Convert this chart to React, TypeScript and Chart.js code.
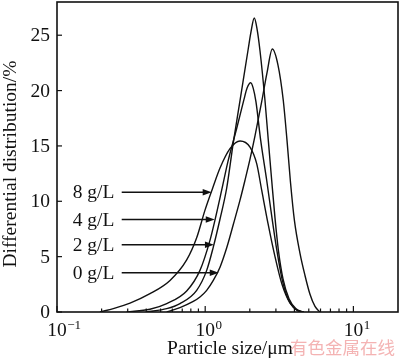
import React, { useEffect, useRef } from 'react';
import { Chart, registerables } from 'chart.js';

Chart.register(...registerables);

// ---- data (particle size in µm, differential distribution in %) ----
const seriesLabels = ['0 g/L', '2 g/L', '4 g/L', '8 g/L'];

const size0 = [0.550, 0.676, 0.831, 0.922, 1.0235, 1.134, 1.259, 1.397, 1.5475, 1.7175, 1.856, 2.006, 2.168, 2.406, 2.612, 2.837, 3.099, 3.365, 3.565, 3.764, 4.006, 4.362, 4.714, 5.095, 5.507, 5.953];
const dist0 = [0, 0.4, 0.95, 1.35, 1.95, 2.85, 4.05, 5.8, 7.9, 10.1, 11.9, 13.8, 15.9, 19.0, 21.6, 23.75, 22.3, 19.1, 15.5, 11.7, 8.2, 5.3, 3.3, 1.6, 0.5, 0];

const size2 = [0.403, 0.550, 0.676, 0.876, 1.0235, 1.134, 1.259, 1.397, 1.5475, 1.7175, 1.9535, 2.037, 2.144, 2.236, 2.343, 2.532, 2.666, 2.810, 2.958, 3.123, 3.350, 3.677, 4.100, 4.571];
const dist2 = [0, 0.3, 0.76, 1.96, 3.76, 5.86, 8.4, 11.2, 15.3, 19.1, 23.8, 25.3, 26.55, 25.6, 23.6, 19.1, 15.5, 11.9, 8.5, 5.5, 3.0, 1.2, 0.3, 0];

const size4 = [0.295, 0.424, 0.550, 0.750, 0.922, 1.077, 1.164, 1.292, 1.425, 1.632, 1.827, 1.915, 2.028, 2.11, 2.20, 2.369, 2.600, 2.823, 3.051, 3.298, 3.620, 4.035, 4.499];
const dist4 = [0, 0.25, 0.76, 1.9, 3.76, 6.47, 8.3, 11.0, 13.6, 16.6, 19.2, 20.2, 20.7, 20.2, 19.0, 15.5, 11.9, 8.5, 5.5, 3.0, 1.2, 0.3, 0];

const size8 = [0.195, 0.246, 0.311, 0.424, 0.579, 0.750, 0.876, 0.997, 1.124, 1.259, 1.470, 1.718, 2.006, 2.226, 2.406, 2.653, 2.958, 3.298, 3.734, 4.228, 4.642];
const dist8 = [0, 0.35, 0.8, 1.65, 2.85, 4.7, 6.7, 9.2, 11.2, 13.0, 14.75, 15.45, 14.9, 13.4, 11.0, 8.0, 5.0, 2.5, 0.8, 0.1, 0];

const seriesSizes = [size0, size2, size4, size8];
const seriesDists = [dist0, dist2, dist4, dist8];

// axes
const xMin = 0.1;
const xMax = 20;
const yMin = 0;
const yMax = 28;
const yTicks = [0, 5, 10, 15, 20, 25];
const xMajorTicks = [0.1, 1, 10];
const xMajorExponents = ['\u22121', '0', '1'];
const xMinorMultipliers = [2, 3, 4, 5, 6, 7, 8, 9];

// annotations (arrows pointing at curves), in data units
const arrowLabels = ['8 g/L', '4 g/L', '2 g/L', '0 g/L'];
const arrowY = [10.82, 8.36, 6.08, 3.55];
const arrowTipX = [1.106, 1.16, 1.145, 1.235];
const arrowStartX = 0.2733;
const arrowLabelX = 0.1276;

const xTitle = 'Particle size/\u03bcm';
const yTitle = 'Differential distribution/%';
const watermark = '有色金属在线';

const SERIF = '"Liberation Serif", "Times New Roman", serif';
const INK = '#111';

const decorPlugin = {
  id: 'decor',
  afterDraw(chart: any) {
    const { ctx, chartArea: a, scales } = chart;
    const xs = scales.x;
    const ys = scales.y;
    ctx.save();
    ctx.strokeStyle = INK;
    ctx.fillStyle = INK;

    // frame
    ctx.lineWidth = 1.6;
    ctx.strokeRect(a.left, a.top, a.right - a.left, a.bottom - a.top);

    // y ticks + labels
    ctx.lineWidth = 1.2;
    ctx.font = `19.5px ${SERIF}`;
    ctx.textAlign = 'right';
    ctx.textBaseline = 'middle';
    yTicks.forEach((v) => {
      const y = ys.getPixelForValue(v);
      ctx.beginPath();
      ctx.moveTo(a.left, y);
      ctx.lineTo(a.left + 5, y);
      ctx.stroke();
      ctx.fillText(String(v), a.left - 7, y + 1);
    });

    // x ticks (inward)
    xMajorTicks.forEach((d) => {
      const x = xs.getPixelForValue(d);
      ctx.beginPath();
      ctx.moveTo(x, a.bottom);
      ctx.lineTo(x, a.bottom - 6);
      ctx.stroke();
      xMinorMultipliers.forEach((m) => {
        const v = d * m;
        if (v >= xMax) return;
        const xm = xs.getPixelForValue(v);
        ctx.beginPath();
        ctx.moveTo(xm, a.bottom);
        ctx.lineTo(xm, a.bottom - 3.5);
        ctx.stroke();
      });
    });

    // x tick labels 10^n
    xMajorTicks.forEach((d, i) => {
      const x = xs.getPixelForValue(d);
      ctx.font = `19.5px ${SERIF}`;
      ctx.textAlign = 'center';
      ctx.textBaseline = 'alphabetic';
      ctx.fillText('10', x, a.bottom + 24);
      const w = ctx.measureText('10').width;
      ctx.font = `13px ${SERIF}`;
      ctx.textAlign = 'left';
      ctx.fillText(xMajorExponents[i], x + w / 2 + 0.5, a.bottom + 17);
    });

    // axis titles
    ctx.font = `19.5px ${SERIF}`;
    ctx.textAlign = 'center';
    ctx.textBaseline = 'alphabetic';
    ctx.fillText(xTitle, 230, a.bottom + 42);
    ctx.save();
    ctx.translate(16, 164);
    ctx.rotate(-Math.PI / 2);
    ctx.fillText(yTitle, 0, 0);
    ctx.restore();

    // arrows with labels
    ctx.lineWidth = 1.4;
    arrowLabels.forEach((lab, i) => {
      const y = ys.getPixelForValue(arrowY[i]);
      const x0 = xs.getPixelForValue(arrowStartX);
      const x1 = xs.getPixelForValue(arrowTipX[i]);
      const head = 9;
      ctx.beginPath();
      ctx.moveTo(x0, y);
      ctx.lineTo(x1 - head + 1, y);
      ctx.stroke();
      ctx.beginPath();
      ctx.moveTo(x1, y);
      ctx.lineTo(x1 - head, y - 3.2);
      ctx.lineTo(x1 - head, y + 3.2);
      ctx.closePath();
      ctx.fill();
      ctx.font = `19.5px ${SERIF}`;
      ctx.textAlign = 'left';
      ctx.textBaseline = 'middle';
      ctx.fillText(lab, xs.getPixelForValue(arrowLabelX), y + 1);
    });

    // watermark
    ctx.font = `17.5px "Noto Sans CJK SC", sans-serif`;
    ctx.fillStyle = '#f4b3b3';
    ctx.textAlign = 'left';
    ctx.textBaseline = 'middle';
    ctx.fillText(watermark, 290, 347);

    ctx.restore();
  },
};

export default function App() {
  const ref = useRef<HTMLCanvasElement>(null);

  useEffect(() => {
    if (!ref.current) return;
    const datasets = seriesLabels.map((label, i) => ({
      label,
      data: seriesSizes[i].map((x, j) => ({ x, y: seriesDists[i][j] })),
      showLine: true,
      borderColor: INK,
      backgroundColor: INK,
      borderWidth: 1.4,
      pointRadius: 0,
      pointHoverRadius: 0,
      cubicInterpolationMode: 'monotone' as const,
      fill: false,
    }));
    const chart = new Chart(ref.current, {
      type: 'scatter',
      data: { datasets },
      options: {
        responsive: false,
        animation: false,
        devicePixelRatio: 1,
        layout: { padding: { top: 2, right: 2, left: 0, bottom: 0 } },
        plugins: {
          legend: { display: false },
          tooltip: { enabled: false },
        },
        scales: {
          x: {
            type: 'logarithmic',
            min: xMin,
            max: xMax,
            grid: { display: false, drawTicks: false },
            border: { display: false },
            ticks: { display: false },
            afterFit: (s: any) => {
              s.height = 52;
            },
          },
          y: {
            type: 'linear',
            min: yMin,
            max: yMax,
            grid: { display: false, drawTicks: false },
            border: { display: false },
            ticks: { display: false },
            afterFit: (s: any) => {
              s.width = 57;
            },
          },
        },
      },
      plugins: [decorPlugin],
    });
    return () => chart.destroy();
  }, []);

  return (
    <div style={{ position: 'fixed', left: 0, top: 0, width: 400, height: 364, background: '#fff' }}>
      <canvas ref={ref} width={400} height={364} style={{ display: 'block', width: 400, height: 364 }} />
    </div>
  );
}
